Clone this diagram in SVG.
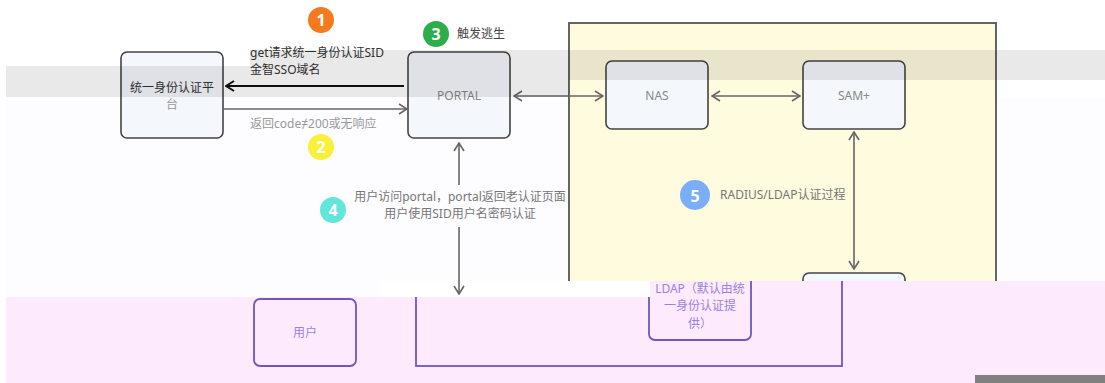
<svg xmlns="http://www.w3.org/2000/svg" width="1105" height="383" viewBox="0 0 1105 383">
<style>
text{font-family:"Noto Sans","Noto Sans CJK SC",sans-serif;font-size:12px}
.node{fill:#f4f7fc;stroke:#444;stroke-width:1.6}
.nt{fill:#888;text-anchor:middle}
.pn{fill:none;stroke:#7056bd;stroke-width:1.8}
.pt{fill:#9b82e0;text-anchor:middle}
.c{stroke:#6a6464;stroke-width:1.6;fill:none}
.num{fill:#fff;font-weight:bold;font-size:16px;text-anchor:middle}
.lbl{fill:#777}
</style>
<defs>
<marker id="ah" viewBox="0 0 10 12" refX="9" refY="6" markerWidth="10" markerHeight="12" markerUnits="userSpaceOnUse" orient="auto-start-reverse">
<path d="M1,1 L9,6 L1,11" fill="none" stroke="#6a6464" stroke-width="1.6"/>
</marker>
<marker id="ahk" viewBox="0 0 10 12" refX="9" refY="6" markerWidth="10" markerHeight="12" markerUnits="userSpaceOnUse" orient="auto-start-reverse">
<path d="M1,1 L9,6 L1,11" fill="none" stroke="#111" stroke-width="2"/>
</marker>
<clipPath id="pinkclip"><path d="M6,297 H650 V281 H1105 V383 H6 Z"/></clipPath>
</defs>
<rect width="1105" height="383" fill="#fff"/>
<rect x="6" y="97" width="1099" height="200" fill="#fdfcff"/>
<g id="container-yellow">
<rect x="569" y="23" width="427" height="280" fill="#fffbdf" stroke="#555" stroke-width="1.8"/>
</g>
<rect x="380" y="281" width="270" height="16" fill="#fff"/>
<g id="node-auth">
<rect class="node" x="121" y="52" width="102" height="86" rx="6"/>
<text x="172" y="92" fill="#333" text-anchor="middle">统一身份认证平</text>
<text x="172" y="109" fill="#999" text-anchor="middle">台</text>
</g>
<g id="node-portal">
<rect class="node" x="408" y="52" width="102" height="86" rx="6"/>
<text class="nt" x="459" y="100" fill="#777">PORTAL</text>
</g>
<g id="node-nas">
<rect class="node" x="606" y="61" width="102" height="68" rx="6"/>
<text class="nt" x="657" y="100">NAS</text>
</g>
<g id="node-sam">
<rect class="node" x="803" y="61" width="102" height="68" rx="6"/>
<text class="nt" x="854" y="100">SAM+</text>
</g>
<g id="node-ldapdb">
<rect class="node" x="803" y="273" width="102" height="60" rx="6"/>
</g>
<g id="connectors">
<line x1="404" y1="86" x2="226" y2="86" stroke="#111" stroke-width="2" marker-end="url(#ahk)"/>
<line class="c" x1="223" y1="109" x2="407" y2="109" marker-end="url(#ah)"/>
<line class="c" x1="514" y1="96" x2="603" y2="96" marker-start="url(#ah)" marker-end="url(#ah)"/>
<line class="c" x1="712" y1="96" x2="800" y2="96" marker-start="url(#ah)" marker-end="url(#ah)"/>
<line class="c" x1="854" y1="132" x2="854" y2="269" marker-start="url(#ah)" marker-end="url(#ah)"/>
<line class="c" x1="459" y1="185" x2="459" y2="143" marker-end="url(#ah)"/>
<line class="c" x1="459" y1="227" x2="459" y2="294" marker-end="url(#ah)"/>
</g>
<g id="labels">
<text x="250" y="57" fill="#333">get请求统一身份认证SID</text>
<text x="250" y="74" fill="#333">金智SSO域名</text>
<text x="250" y="128" fill="#999">返回code≠200或无响应</text>
<text x="457" y="38" fill="#444">触发逃生</text>
<text class="lbl" x="460" y="201" text-anchor="middle">用户访问portal，portal返回老认证页面</text>
<text class="lbl" x="460" y="218" text-anchor="middle">用户使用SID用户名密码认证</text>
<text class="lbl" x="720" y="199">RADIUS/LDAP认证过程</text>
</g>
<g id="badges">
<circle cx="321" cy="20" r="13" fill="#f47a20"/><text class="num" x="321" y="26">1</text>
<circle cx="321" cy="147" r="13" fill="#f8f03a"/><text class="num" x="321" y="153">2</text>
<circle cx="436" cy="34" r="13" fill="#2eae4a"/><text class="num" x="436" y="40">3</text>
<circle cx="333" cy="210" r="13" fill="#62e6dc"/><text class="num" x="333" y="216">4</text>
<circle cx="695" cy="195" r="15" fill="#7aaef7"/><text class="num" x="695" y="202" font-size="19">5</text>
</g>
<path d="M6,66 H250 V50 H1105 V80 H569 V97 H6 Z" fill="#000" fill-opacity="0.085"/>
<g clip-path="url(#pinkclip)">
<rect x="6" y="281" width="1099" height="102" fill="#fdebfd"/>
<g id="container-purple">
<rect class="pn" x="416" y="255" width="426" height="111"/>
</g>
<g id="node-ldap">
<rect class="pn" x="649" y="262" width="102" height="78" rx="6" fill="#fdebfd"/>
<text class="pt" x="700" y="293">LDAP（默认由统</text>
<text class="pt" x="700" y="310">一身份认证提</text>
<text class="pt" x="700" y="328">供）</text>
</g>
</g>
<g id="node-user">
<rect class="pn" x="254" y="299" width="102" height="67" rx="6" fill="#fdedfd"/>
<text class="pt" x="305" y="337">用户</text>
</g>
<rect x="975" y="375" width="130" height="8" fill="#808080"/>
</svg>
